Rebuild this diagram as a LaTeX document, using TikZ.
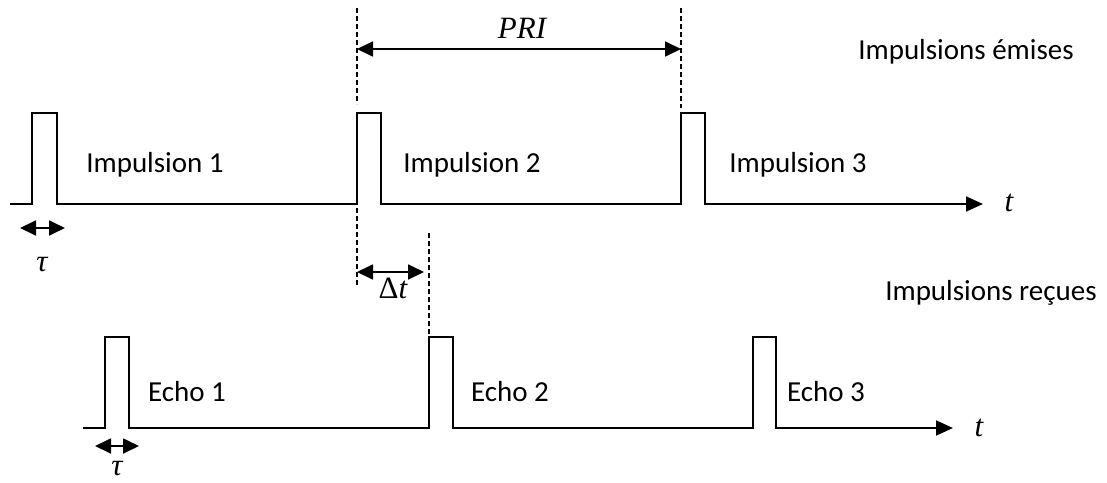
\documentclass[tikz,border=0pt]{standalone}
\usepackage{fontspec}
\setmainfont{Carlito}
\newfontfamily\symfont{Liberation Serif}
\usetikzlibrary{arrows.meta,calc,positioning}

\begin{document}
\begin{tikzpicture}[x=1pt,y=-1pt,
        signal/.style={line width=1.7pt},
        axis/.style={signal,-{Triangle[length=17pt,width=15pt]}},
        dimline/.style={line width=1.8pt,{Triangle[length=16pt,width=15pt]}-{Triangle[length=16pt,width=15pt]}},
        guide/.style={line width=1.1pt,dash pattern=on 5pt off 3pt},
        lbl/.style={font=\fontsize{29}{34}\selectfont,inner sep=0pt},
        sym/.style={font=\fontsize{31}{36}\selectfont\symfont\itshape,inner sep=0pt}]
        \useasboundingbox (0,0) rectangle (1107,482);
        \def\hi{113}
        \def\lo{204}
        \def\ehi{337}
        \def\elo{428}
        %Emitted pulses
        \coordinate (s0) at (10,\lo);
        \coordinate (s1) at (32,\lo);
        \coordinate (s2) at (357,\lo);
        \coordinate (s3) at (681,\lo);
        \coordinate (send) at (983,\lo);
        \draw[axis] (s0) -- (s1) -- ++(0,-91) -- ++(25,0) -- ++(0,91)
                -- (s2) -- ++(0,-91) -- ++(24,0) -- ++(0,91)
                -- (s3) -- ++(0,-91) -- ++(24,0) -- ++(0,91) -- (send);
        %Echo pulses
        \coordinate (r0) at (83,\elo);
        \coordinate (r1) at (105,\elo);
        \coordinate (r2) at (429,\elo);
        \coordinate (r3) at (753,\elo);
        \coordinate (rend) at (953,\elo);
        \draw[axis] (r0) -- (r1) -- ++(0,-91) -- ++(24,0) -- ++(0,91)
                -- (r2) -- ++(0,-91) -- ++(24,0) -- ++(0,91)
                -- (r3) -- ++(0,-91) -- ++(23,0) -- ++(0,91) -- (rend);
        %Guides
        \coordinate (g1) at (357,8);
        \coordinate (g2) at (357,104);
        \coordinate (g3) at (357,208);
        \coordinate (g4) at (357,285);
        \coordinate (g5) at (681,8);
        \coordinate (g6) at (681,108);
        \coordinate (g7) at (429,233);
        \coordinate (g8) at (429,335);
        \draw[guide] (g1) -- (g2);
        \draw[guide] (g3) -- (g4);
        \draw[guide] (g5) -- (g6);
        \draw[guide] (g7) -- (g8);
        %Dimensions
        \coordinate (pri1) at (357,49);
        \coordinate (pri2) at (681,49);
        \coordinate (dt1) at (357,272);
        \coordinate (dt2) at (424,272);
        \coordinate (ta1) at (20,228);
        \coordinate (ta2) at (65,228);
        \coordinate (tb1) at (95,446);
        \coordinate (tb2) at (139,446);
        \draw[dimline] (pri1) -- (pri2);
        \draw[dimline] (dt1) -- (dt2);
        \draw[dimline] (ta1) -- (ta2);
        \draw[dimline] (tb1) -- (tb2);
        %Labels
        \node[sym] (pri) at (522,28) {PRI};
        \node[sym] (dt) at (393,288) {{\upshape Δ}t};
        \node[sym] (taua) at (42,265) {τ};
        \node[sym] (taub) at (117,469) {τ};
        \node[sym] (ta) at (1009,203) {t};
        \node[sym] (tb) at (979,428) {t};
        \node[lbl] (em) at (966,52) {Impulsions émises};
        \node[lbl] (rc) at (991,293) {Impulsions reçues};
        \node[lbl] (imp1) at (155,165) {Impulsion 1};
        \node[lbl] (imp2) at (472,165) {Impulsion 2};
        \node[lbl] (imp3) at (798,165) {Impulsion 3};
        \node[lbl] (ech1) at (187,392) {Echo 1};
        \node[lbl] (ech2) at (510,392) {Echo 2};
        \node[lbl] (ech3) at (826,392) {Echo 3};
\end{tikzpicture}
\end{document}
